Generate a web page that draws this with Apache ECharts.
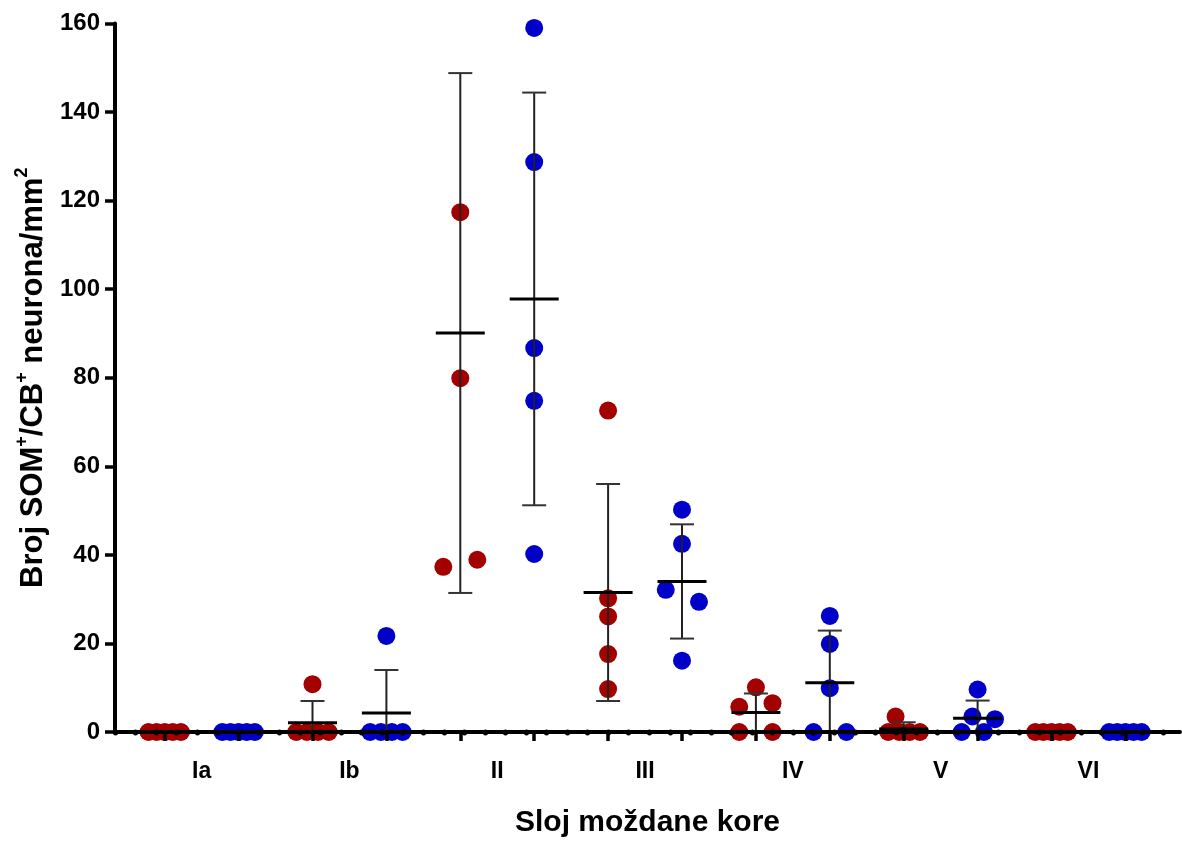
<!DOCTYPE html>
<html>
<head>
<meta charset="utf-8">
<script src="https://cdn.jsdelivr.net/npm/echarts@6/dist/echarts.min.js"></script>
<style>
html,body{margin:0;padding:0;background:#fff;}
#chart{width:1182px;height:853px;}
</style>
</head>
<body>
<div id="chart"></div>
<script>
// ---- data ----
var categories = ['Ia', 'Ib', 'II', 'III', 'IV', 'V', 'VI'];

var redValues = [
  [0, 0, 0, 0, 0],
  [10.8, 0, 0, 0, 0],
  [117.4, 79.9, 37.3, 38.9],
  [72.6, 30.2, 26.1, 17.6, 9.7],
  [10.1, 5.7, 6.5, 0, 0],
  [3.5, 0, 0, 0, 0],
  [0, 0, 0, 0, 0]
];
var redJitter = [
  [-0.22, -0.11, 0, 0.11, 0.22],
  [0, -0.22, -0.075, 0.075, 0.22],
  [0, 0, -0.23, 0.23],
  [0, 0, 0, 0, 0],
  [0, -0.225, 0.225, -0.225, 0.225],
  [-0.11, -0.21, -0.06, 0.08, 0.22],
  [-0.22, -0.11, 0, 0.11, 0.22]
];
var blueValues = [
  [0, 0, 0, 0, 0],
  [21.7, 0, 0, 0, 0],
  [159.0, 128.7, 86.7, 74.8, 40.2],
  [50.2, 42.5, 32.1, 29.4, 16.1],
  [26.2, 19.9, 9.9, 0, 0],
  [9.6, 3.5, 2.9, 0, 0],
  [0, 0, 0, 0, 0]
];
var blueJitter = [
  [-0.22, -0.11, 0, 0.11, 0.22],
  [0, -0.22, -0.075, 0.075, 0.22],
  [0, 0, 0, 0, 0],
  [0, 0, -0.22, 0.23, 0],
  [0, 0, 0, -0.22, 0.225],
  [0, -0.07, 0.235, -0.215, 0.085],
  [-0.22, -0.11, 0, 0.11, 0.22]
];
var redMean  = [0, 2.1, 90.1, 31.5, 4.4, 0.7, 0];
var redSD    = [0, 4.9, 58.7, 24.5, 4.3, 1.5, 0];
var blueMean = [0, 4.3, 97.8, 34.0, 11.1, 3.1, 0];
var blueSD   = [0, 9.7, 46.6, 12.9, 11.8, 4.0, 0];

var yMin = 0, yMax = 160, yInterval = 20;

// ---- build series data ----
function points(vals, jit, side) {
  var out = [];
  for (var c = 0; c < vals.length; c++) {
    for (var k = 0; k < vals[c].length; k++) {
      out.push([c * 2 + side + jit[c][k], vals[c][k]]);
    }
  }
  return out;
}
function stats(means, sds, side) {
  var out = [];
  for (var c = 0; c < means.length; c++) out.push([c * 2 + side, means[c], sds[c]]);
  return out;
}

var RED = '#a30000', BLUE = '#0000c8';
var FONT = 'Liberation Sans, Arial, sans-serif';

function renderBars(params, api) {
  var x = api.value(0), m = api.value(1), sd = api.value(2);
  var hi = m + sd, lo = Math.max(0, m - sd);
  var pm = api.coord([x, m]), ph = api.coord([x, hi]), pl = api.coord([x, lo]);
  var children = [];
  if (sd > 0) {
    children.push({type: 'line', shape: {x1: pm[0], y1: pl[1], x2: pm[0], y2: ph[1]},
      style: {stroke: '#222', lineWidth: 2}});
    children.push({type: 'line', shape: {x1: pm[0] - 12, y1: ph[1], x2: pm[0] + 12, y2: ph[1]},
      style: {stroke: '#333', lineWidth: 2}});
    children.push({type: 'line', shape: {x1: pm[0] - 12, y1: pl[1], x2: pm[0] + 12, y2: pl[1]},
      style: {stroke: '#333', lineWidth: 2}});
  }
  children.push({type: 'line', shape: {x1: pm[0] - 24.5, y1: pm[1], x2: pm[0] + 24.5, y2: pm[1]},
    style: {stroke: '#000', lineWidth: 3}});
  return {type: 'group', children: children};
}

var chart = echarts.init(document.getElementById('chart'), null, {renderer: 'canvas'});
var hiddenY = {show: false, min: 0, max: 1};
chart.setOption({
  animation: false,
  backgroundColor: '#fff',
  grid: [
    {left: 164.7, right: 56.6, top: 23.5, bottom: 121},   // data
    {left: 127.7, right: 19.7, top: 23.5, bottom: 121},   // category labels
    {left: 115, right: 2, top: 23.5, bottom: 121},        // axis lines (x line + y axis)
    {left: 115, right: 19, top: 23.5, bottom: 121}        // axis dots
  ],
  xAxis: [
    {gridIndex: 0, type: 'value', min: 0, max: 13, interval: 1, z: 10,
      axisLine: {show: false}, splitLine: {show: false}, axisLabel: {show: false},
      axisTick: {show: true, length: 9, lineStyle: {color: '#000', width: 3.5}}},
    {gridIndex: 1, type: 'category', data: categories, boundaryGap: true,
      axisLine: {show: false}, axisTick: {show: false}, splitLine: {show: false},
      axisLabel: {margin: 28, color: '#000', fontFamily: FONT, fontWeight: 'bold', fontSize: 23}},
    {gridIndex: 2, type: 'value', min: 0, max: 1, z: 11,
      axisLine: {show: true, onZero: false, lineStyle: {color: '#000', width: 4}},
      axisTick: {show: false}, axisLabel: {show: false}, splitLine: {show: false},
      name: 'Sloj moždane kore', nameLocation: 'middle', nameGap: 76,
      nameTextStyle: {color: '#000', fontFamily: FONT, fontWeight: 'bold', fontSize: 30}},
    {gridIndex: 3, type: 'value', min: 0, max: 51, interval: 1, z: 12,
      axisLine: {show: false}, axisLabel: {show: false}, splitLine: {show: false},
      axisTick: {show: true, length: 1, lineStyle: {color: '#000', width: 5, cap: 'round'}}}
  ],
  yAxis: [
    {gridIndex: 0, type: 'value', min: yMin, max: yMax, show: false},
    Object.assign({gridIndex: 1}, hiddenY),
    {gridIndex: 2, type: 'value', min: yMin, max: yMax, interval: yInterval, z: 11,
      axisLine: {show: true, onZero: false, lineStyle: {color: '#000', width: 4}},
      axisTick: {show: true, length: 10, lineStyle: {color: '#000', width: 3.5}},
      splitLine: {show: false},
      axisLabel: {margin: 15, color: '#000', fontFamily: FONT, fontWeight: 'bold', fontSize: 24},
      name: '{n|Broj SOM}{s|+}{n|/CB}{s|+}{n| neurona/mm}{s|2}',
      nameLocation: 'middle', nameRotate: 90, nameGap: 66,
      nameTextStyle: {
        color: '#000',
        rich: {
          n: {fontFamily: FONT, fontWeight: 'bold', fontSize: 31, lineHeight: 36, color: '#000', verticalAlign: 'bottom'},
          s: {fontFamily: FONT, fontWeight: 'bold', fontSize: 18, lineHeight: 36, color: '#000', verticalAlign: 'top'}
        }
      }},
    Object.assign({gridIndex: 3}, hiddenY)
  ],
  series: [
    {type: 'scatter', xAxisIndex: 0, yAxisIndex: 0, data: points(redValues, redJitter, 0),
      symbolSize: 18, clip: false, z: 2, itemStyle: {color: RED, opacity: 1}},
    {type: 'scatter', xAxisIndex: 0, yAxisIndex: 0, data: points(blueValues, blueJitter, 1),
      symbolSize: 18, clip: false, z: 2, itemStyle: {color: BLUE, opacity: 1}},
    {type: 'custom', xAxisIndex: 0, yAxisIndex: 0, data: stats(redMean, redSD, 0),
      renderItem: renderBars, z: 3},
    {type: 'custom', xAxisIndex: 0, yAxisIndex: 0, data: stats(blueMean, blueSD, 1),
      renderItem: renderBars, z: 3}
  ]
});
</script>
</body>
</html>
